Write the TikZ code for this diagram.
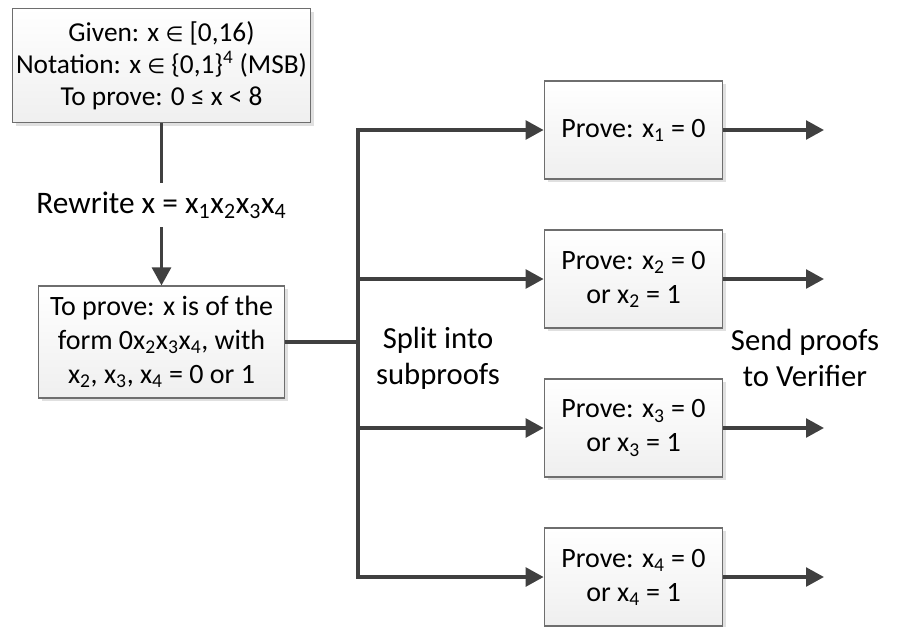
\documentclass[tikz,border=0pt]{standalone}
\usepackage{fontspec}
\setmainfont{Carlito}
\newfontfamily\symf{DejaVu Sans}
\definecolor{linegray}{HTML}{404040}
\definecolor{edgegray}{HTML}{6E6E6E}
\definecolor{fillgray}{HTML}{EFEFEF}
\definecolor{shadegray}{HTML}{E0E0E0}
\usetikzlibrary{arrows.meta, calc, positioning, shadows}
\newcommand{\sbs}[1]{\textsubscript{#1}}
\newcommand{\elem}{{\symf\scalebox{0.75}{∈}}}

\begin{document}
\begin{tikzpicture}[x=0.75pt, y=-0.75pt,
		proofbox/.style={draw=edgegray, line width=0.8pt, top color=white, bottom color=fillgray,
			drop shadow={shadow xshift=2.5pt, shadow yshift=-2.5pt, fill=shadegray, opacity=1},
			align=center, inner sep=0pt, font=\fontsize{21}{25.5}\selectfont},
		subbox/.style={proofbox, minimum width=134pt, minimum height=73.5pt},
		flowline/.style={draw=linegray, line width=2.7pt},
		flowarrow/.style={flowline, -{Triangle[length=13.5pt, width=14pt]}},
		steplabel/.style={align=center, inner sep=0pt, font=\fontsize{23}{27}\selectfont}]
			\useasboundingbox (0,0) rectangle (922,626);
			
			% left column
			\node[proofbox, minimum width=224pt, minimum height=86pt, font=\fontsize{20.5}{24}\selectfont] (given) at (161.5,65.5)
				{Given: x \elem{} [0,16)\\Notation: x \elem{} \{0,1\}\textsuperscript{4} (MSB)\\To prove: 0 ≤ x < 8};
			\node[steplabel, font=\fontsize{23.5}{28}\selectfont, minimum height=33pt] (rewrite) at (161.5,205)
				{Rewrite x = x\sbs{1}x\sbs{2}x\sbs{3}x\sbs{4}};
			\node[proofbox, minimum width=185pt, minimum height=84pt] (form) at (161.5,342)
				{To prove: x is of the\\form 0x\sbs{2}x\sbs{3}x\sbs{4}, with\\x\sbs{2}, x\sbs{3}, x\sbs{4} = 0 or 1};
			
			\draw[flowline] (given) -- (rewrite);
			\draw[flowarrow] (rewrite) -- (form);
			
			% subproofs
			\node[subbox] (sub1) at (633.5,130) {Prove: x\sbs{1} = 0};
			\node[subbox] (sub2) at (633.5,279) {Prove: x\sbs{2} = 0\\or x\sbs{2} = 1};
			\node[subbox] (sub3) at (633.5,428) {Prove: x\sbs{3} = 0\\or x\sbs{3} = 1};
			\node[subbox] (sub4) at (633.5,577) {Prove: x\sbs{4} = 0\\or x\sbs{4} = 1};
			
			\coordinate (split) at (358,342);
			\coordinate (verifier) at (824,365);
			
			\draw[flowline] (form.east) -- (split);
			\draw[flowline, line cap=rect] (split |- sub1.west) -- (split |- sub4.west);
			\foreach \i in {1,...,4} {
				\draw[flowarrow] (split |- sub\i.west) -- (sub\i.west);
				\draw[flowarrow] (sub\i.east) -- (sub\i.east -| verifier);
			}
			
			\node[steplabel] (splitlabel) at (438,358) {Split into\\subproofs};
			\node[steplabel] (sendlabel) at (805,358) {Send proofs\\to Verifier};
			
		\end{tikzpicture}
\end{document}
